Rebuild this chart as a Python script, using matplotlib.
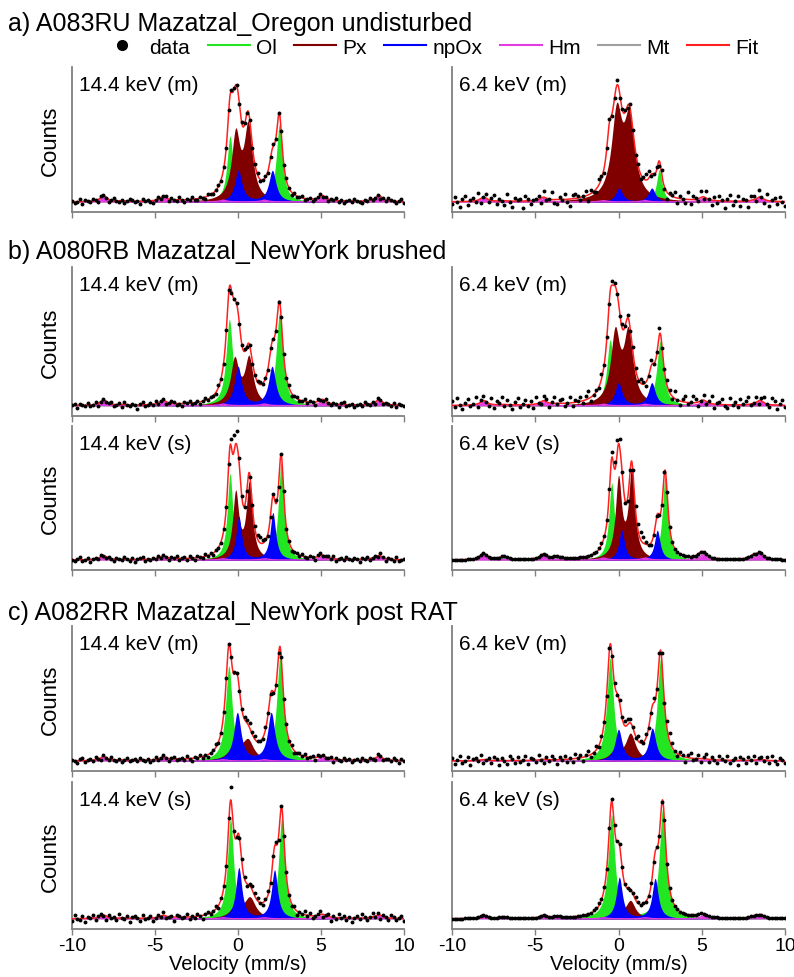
import numpy as np
import matplotlib
matplotlib.use('Agg')
import matplotlib.pyplot as plt
from matplotlib.lines import Line2D

plt.rcParams['font.family'] = ['Liberation Sans', 'DejaVu Sans']
plt.rcParams['axes.unicode_minus'] = False

# Títulos de las secciones y etiquetas de cada panel
section_titles = ['a) A083RU Mazatzal_Oregon undisturbed',
                  'b) A080RB Mazatzal_NewYork brushed',
                  'c) A082RR Mazatzal_NewYork post RAT']
panel_labels = ['14.4 keV (m)', '6.4 keV (m)',
                '14.4 keV (m)', '6.4 keV (m)',
                '14.4 keV (s)', '6.4 keV (s)',
                '14.4 keV (m)', '6.4 keV (m)',
                '14.4 keV (s)', '6.4 keV (s)']
legend_labels = ['data', 'Ol', 'Px', 'npOx', 'Hm', 'Mt', 'Fit']
x_ticks = [-10, -5, 0, 5, 10]

# Dobletes: posiciones de las dos líneas (mm/s) y altura de cada relleno
# en su pico, como fracción del máximo del ajuste
ol_pos = [(-0.48, 2.49), (-0.55, 2.45), (-0.52, 2.50), (-0.50, 2.50), (-0.48, 2.60),
          (-0.41, 2.80), (-0.55, 2.53), (-0.50, 2.53), (-0.45, 2.63), (-0.42, 2.65)]
ol_top = [(0.56, 0.66), (0.31, 0.30), (0.70, 0.75), (0.54, 0.53), (0.69, 0.78),
          (0.62, 0.67), (0.80, 0.87), (0.81, 0.81), (0.86, 0.86), (0.90, 0.95)]
px_pos = [(-0.14, 0.62), (-0.11, 0.65), (-0.20, 0.66), (-0.20, 0.59), (-0.14, 0.68),
          (0.00, 0.79), (-0.18, 0.60), (-0.20, 0.72), (-0.10, 0.72), (-0.05, 0.72)]
px_top = [(0.63, 0.69), (0.92, 0.86), (0.40, 0.41), (0.65, 0.65), (0.56, 0.63),
          (0.68, 0.74), (0.17, 0.19), (0.10, 0.22), (0.14, 0.19), (0.09, 0.16)]
npox_pos = [(0.02, 2.07), (0.03, 2.00), (0.00, 2.05), (0.00, 2.00), (0.05, 2.10),
            (0.19, 2.33), (-0.04, 2.00), (0.00, 2.03), (0.05, 2.20), (0.05, 2.20)]
npox_top = [(0.27, 0.27), (0.13, 0.13), (0.32, 0.32), (0.19, 0.19), (0.35, 0.38),
            (0.24, 0.24), (0.41, 0.41), (0.25, 0.26), (0.44, 0.42), (0.36, 0.35)]
# semianchura (Ol, Px, npOx) en mm/s
hwhm = [(0.22, 0.30, 0.26), (0.20, 0.38, 0.25), (0.24, 0.30, 0.26), (0.24, 0.33, 0.25),
        (0.20, 0.22, 0.20), (0.20, 0.22, 0.20), (0.24, 0.40, 0.26), (0.24, 0.36, 0.25),
        (0.22, 0.40, 0.22), (0.24, 0.34, 0.22)]

# Sextetos magnéticos (Hm y Mt), altura de la línea externa / máximo del ajuste
hm_lines = [-8.1, -4.5, -0.9, 1.6, 5.1, 8.5]
mt_lines = [-6.9, -3.7, -0.5, 1.7, 4.9, 8.1]
sextet_rel = [1.0, 0.8, 0.3, 0.3, 0.8, 1.0]
sextet_hwhm = 0.25
hm_top = [0.05, 0.04, 0.045, 0.04, 0.035, 0.055, 0.035, 0.01, 0.03, 0.03]
mt_top = [0.005, 0.005, 0.005, 0.005, 0.005, 0.03, 0.005, 0.0, 0.005, 0.015]

# Residuos de los datos respecto al ajuste (% del máximo), 128 canales por panel
res_a_l = [1, -1, 0, 2, -2, 1, 0, -1, 2, 0, -2, 1, 1, -1, -2, 0,
           2, 0, -1, 1, -2, 0, 2, 1, -1, 0, -2, 2, 0, 1, -1, -2,
           0, 2, -1, 0, 1, -2, 1, 0, -1, 2, 0, -2, 1, 0, 2, -1,
           -1, 1, 0, -2, 2, 1, -1, 0, 1, -1, 2, 0, -1, 2, 1, 0,
           -1, 2, 1, -1, 0, -2, 1, 2, -1, 0, 1, -2, 0, 2, -1, 1,
           0, -1, 2, 0, -2, 1, -1, 0, 2, -1, 0, 1, -2, 0, 1, 2,
           -1, 0, -2, 1, 0, 2, -1, 1, -2, 0, 1, -1, 2, 0, -1, -2,
           1, 0, 2, -1, 0, 1, -2, 0, -1, 2, 1, 0, -1, 0, 2, -1]
res_a_r = [-2, 4, 0, -5, 2, 5, -3, 1, 3, -1, 6, -4, 0, 4, -2, 2,
           5, -3, 2, 0, -4, 6, -1, -5, 3, 1, 2, -6, 4, 2, -3, 0,
           1, 3, -4, 5, -2, 0, 6, -3, -4, 2, 0, 5, -2, -6, 3, 4,
           2, -2, 1, 4, -5, 3, 0, -3, 5, 2, -4, 1, 3, -2, 0, 4,
           -3, 1, 2, -2, 4, 0, -3, 2, -4, 1, 5, 6, -2, 0, 3, -4,
           4, -2, -6, 2, 1, 5, -4, 2, 0, -3, 6, -4, 3, 1, -2, 5,
           -2, 6, 0, -4, 3, -2, 4, 1, -6, 2, 5, -3, 0, 4, -4, 2,
           1, -5, 4, 3, -2, 6, 0, -3, 5, -4, 1, 3, -2, 4, 0, -4]
res_b1_l = [0, 1, -2, 1, 0, -1, 2, -1, 0, 2, -2, 0, 1, -1, 0, 2,
            -1, 0, 1, -2, 2, 0, -1, 1, 0, -3, 1, 2, -1, 0, 1, -1,
            2, -1, 0, 1, -2, 0, 2, 1, -1, 0, -2, 1, 0, 2, -1, 0,
            1, -2, 0, 2, -1, 1, 0, -1, 2, 0, -1, 2, 1, -2, 0, 1,
            -1, 0, 2, -1, 1, -2, 0, 1, 2, -1, 0, -2, 1, 0, -1, 2,
            0, 1, -1, 2, -2, 0, 1, -1, 0, 2, -1, 1, 0, -2, 2, 0,
            -1, 2, 0, -1, 1, 0, -2, 1, 2, -1, 0, 1, -2, 0, 1, -1,
            2, 0, -1, 1, -2, 2, 0, -1, 1, 0, -1, 2, -2, 1, 0, -1]
res_b1_r = [4, -1, 6, 0, -3, 2, 5, -1, 1, 6, -3, 2, 4, 0, -2, 5,
            -3, 3, 1, 6, -1, 4, 0, -3, 2, 6, -2, 1, 4, -1, 3, -3,
            6, 0, -2, 4, 2, -3, 1, 5, -1, 3, 4, -2, 0, 5, -3, 2,
            1, 4, -2, 3, 6, -3, 0, 2, -1, 4, 0, 2, -3, 3, 2, 0,
            -2, 4, 0, 2, -1, 5, 1, -2, 4, 2, -3, 0, 5, -1, 3, 6,
            -3, 1, 4, 2, -2, 6, 0, -3, 2, 5, -1, 1, 6, 3, -3, 0,
            4, -2, 2, 6, -3, 1, 2, 5, -1, -3, 6, 0, 2, -2, 5, 1,
            3, 6, -1, 0, 4, -3, 2, 5, 0, -2, 6, 3, -3, 1, 4, -1]
res_b2_l = [0, -1, 1, 2, -1, 0, 1, -2, 0, 1, -1, 2, 0, -1, 1, 0,
            -2, 1, 0, -1, 2, 0, -1, 1, -2, 0, 1, 2, -1, 0, -1, 1,
            0, 2, -1, 1, 0, -2, 1, 0, 2, -1, 0, 1, -1, 2, 0, -2,
            1, 0, -1, 2, 0, 1, -2, 1, 0, -1, 2, 1, -2, 8, 14, 12,
            6, 2, -1, -3, -2, 1, 3, 4, 5, 3, 1, -2, -3, 1, 3, -1,
            0, 2, -1, 1, -2, 0, 1, -1, 2, 0, -1, 1, 0, -2, 1, 2,
            -1, 0, 1, -1, 2, -2, 0, 1, -1, 2, 0, -1, 1, 0, -2, 1,
            0, 2, -1, 0, 1, -1, 2, 0, -2, 1, 0, -1, 2, -1, 0, 1]
res_b2_r = [0, 0, 0, 0, 0, 0, 0, 0, 0, 0, 0, 0, 0, 0, 0, 0,
            0, 0, 0, 0, 0, 0, 0, 0, 0, 0, 0, 0, 0, 0, 0, 0,
            0, 0, 0, 0, 0, 0, 0, 0, 0, 0, 0, 0, 0, 0, 0, 0,
            0, 0, 0, 0, 0, 0, 1, 0, 1, 2, 1, 3, 2, 4, 6, 11,
            8, 3, -2, -3, -1, 2, 4, 6, 7, 5, 2, 0, -2, -1, 1, 0,
            0, 1, 0, 0, 0, 0, 0, 0, 0, 0, 0, 0, 0, 0, 0, 0,
            0, 0, 0, 0, 0, 0, 0, 0, 0, 0, 0, 0, 0, 0, 0, 0,
            0, 0, 0, 0, 0, 0, 0, 0, 0, 0, 0, 0, 0, 0, 0, 0]
res_c1_l = [1, 0, -2, 1, 2, -1, 0, 1, -1, 2, 0, -2, 1, 0, -1, 2,
            0, -1, 1, -2, 0, 2, -1, 0, 1, -1, 2, 0, -1, 1, -2, 0,
            2, -1, 0, 1, 0, -2, 1, 2, -1, 0, 1, -1, 2, 0, -2, 1,
            0, 2, -1, 1, -2, 0, 1, 3, -1, 0, 2, 1, 0, 3, 2, 0,
            -2, 1, 2, 3, 4, 2, 3, 1, 0, -1, 2, 1, 0, -1, 1, 2,
            -1, 0, 2, -1, 1, -2, 0, 1, 0, 2, -1, 0, 1, -2, 2, 0,
            1, -1, 0, 2, -2, 1, 0, -1, 2, 0, 1, -2, 0, 1, -1, 2,
            0, -1, 1, 0, -2, 2, 1, -1, 0, 1, -1, 2, 0, -2, 1, 0]
res_c1_r = [2, -3, 1, 4, -2, 0, 3, -4, 1, 2, -1, 4, -3, 0, 2, -2,
            3, 1, -4, 2, 0, -3, 4, 1, -2, 3, -1, 0, 4, -3, 2, 1,
            -2, 4, 0, -3, 2, -1, 3, 1, -4, 2, 0, 3, -2, 1, -3, 4,
            0, 2, -3, 1, 4, -2, 0, 3, -1, 2, 1, -2, 2, 0, 1, -1,
            3, 2, 4, 5, 3, 1, -2, 4, 2, -1, 3, 0, -2, 4, 3, 6,
            5, -1, 6, 7, 4, 0, -2, 3, 1, -4, 2, 4, -1, 0, 3, -3,
            1, 4, -2, 2, 0, -3, 3, 1, -1, 4, -2, 0, 2, -4, 3, 1,
            -2, 3, 0, 4, -3, 1, 2, -1, 3, -2, 4, 0, -3, 2, 1, -2]
res_c2_l = [-2, 3, 0, -1, 2, -3, 1, 0, 3, -2, 1, 2, -1, -3, 2, 0,
            1, -2, 3, 0, -1, 2, -3, 1, 2, 0, -2, 3, -1, 0, 2, -3,
            0, 2, -1, 3, -2, 0, 1, -3, 2, 1, -1, 0, 3, -2, 1, -1,
            2, 0, -3, 1, 2, -1, 0, 3, -2, 1, 2, 0, 3, 14, 2, 0,
            -1, 3, 2, -2, 1, 4, 3, 2, 0, -2, 1, 3, -1, 0, 2, -3,
            1, -1, 3, 0, -2, 2, -3, 1, 0, 3, -1, 2, -2, 0, 1, 3,
            -2, 0, 2, -3, 1, -1, 3, 0, 2, -2, 1, -3, 0, 2, -1, 3,
            1, -2, 0, 3, -1, 2, -3, 1, 0, -2, 3, 1, -1, 0, 2, -2]
res_c2_r = [0, 0, 0, 0, 0, 0, 0, 0, 0, 0, 0, 0, 0, 0, 0, 0,
            0, 0, 0, 0, 0, 0, 0, 0, 0, 0, 0, 0, 0, 0, 0, 0,
            0, 0, 0, 0, 0, 0, 0, 0, 0, 0, 0, 0, 0, 0, 0, 0,
            0, 0, 0, 0, 0, 0, 1, 1, 2, 1, 2, 0, 1, 2, 3, 1,
            2, 3, 1, 0, -1, 1, 2, 1, 0, 1, -1, 0, 1, -1, 1, 0,
            1, 0, 0, 0, 0, 0, 0, 0, 0, 0, 0, 0, 0, 0, 0, 0,
            0, 0, 0, 0, 0, 0, 0, 0, 0, 0, 0, 0, 0, 0, 0, 0,
            0, 0, 0, 0, 0, 0, 0, 0, 0, 0, 0, 0, 0, 0, 0, 0]
residuals = [res_a_l, res_a_r, res_b1_l, res_b1_r, res_b2_l,
             res_b2_r, res_c1_l, res_c1_r, res_c2_l, res_c2_r]

# Colores de cada componente
c_ol, c_px, c_np, c_hm, c_mt, c_fit = '#22e622', '#800000', '#0000ff', '#e23ce2', '#a0a0a0', '#ff2020'
c_axis = '#808080'


def lorentz(x, centros, alturas, w):
    y = np.zeros_like(x, dtype=float)
    for c, a in zip(centros, alturas):
        y = y + a / (1 + ((x - c) / w) ** 2)
    return y


def alturas_de_linea(k, grid, n_iter=80):
    # Busca las alturas de cada línea para que el pico de cada relleno quede
    # a la fracción leída del máximo del ajuste (máximo normalizado a 1)
    pos = [ol_pos[k], px_pos[k], npox_pos[k]]
    tops = [np.array(ol_top[k]), np.array(px_top[k]), np.array(npox_top[k])]
    amps = [t.astype(float) for t in tops]
    hm_a = [hm_top[k] * r for r in sextet_rel]
    mt_a = [mt_top[k] * r for r in sextet_rel]
    sext = lorentz(grid, hm_lines, hm_a, sextet_hwhm) + lorentz(grid, mt_lines, mt_a, sextet_hwhm)
    for _ in range(n_iter):
        fit = sext.copy()
        for j in range(3):
            fit = fit + lorentz(grid, pos[j], amps[j], hwhm[k][j])
        M = fit.max()
        for j in range(3):
            actual = lorentz(np.array(pos[j]), pos[j], amps[j], hwhm[k][j])
            amps[j] = amps[j] * np.sqrt(tops[j] * M / actual) / M
    return amps, hm_a, mt_a


def componentes(x, k, amps, hm_a, mt_a):
    w_ol, w_px, w_np = hwhm[k]
    ol = lorentz(x, ol_pos[k], amps[0], w_ol)
    px = lorentz(x, px_pos[k], amps[1], w_px)
    npox = lorentz(x, npox_pos[k], amps[2], w_np)
    hm = lorentz(x, hm_lines, hm_a, sextet_hwhm)
    mt = lorentz(x, mt_lines, mt_a, sextet_hwhm)
    return ol, px, npox, hm, mt


# Geometría de la figura (en píxeles)
W, H = 794, 978
row_top = [68, 268, 427, 627, 783]
row_bot = [213, 417, 571, 772, 930]
col_x0 = [72, 452]
col_x1 = [404, 785]

fig = plt.figure(figsize=(W / 100, H / 100), dpi=100)
v = np.linspace(-10, 10, 1601)

for k in range(10):
    row, col = divmod(k, 2)
    ax = fig.add_axes([col_x0[col] / W, 1 - row_bot[row] / H,
                       (col_x1[col] - col_x0[col]) / W, (row_bot[row] - row_top[row]) / H])
    amps, hm_a, mt_a = alturas_de_linea(k, v)
    ol, px, npox, hm, mt = componentes(v, k, amps, hm_a, mt_a)
    fit = ol + px + npox + hm + mt
    M = fit.max()

    # puntos de datos = ajuste + residuo
    vd = np.linspace(-10, 10, len(residuals[k]))
    fit_d = sum(componentes(vd, k, amps, hm_a, mt_a))
    yd = fit_d + np.array(residuals[k]) * M / 100

    ax.fill_between(v, 0, mt, color=c_mt, lw=0, zorder=1)
    ax.fill_between(v, 0, ol, color=c_ol, lw=0, zorder=2)
    ax.fill_between(v, 0, px, color=c_px, lw=0, zorder=3)
    ax.fill_between(v, 0, npox, color=c_np, lw=0, zorder=4)
    ax.fill_between(v, 0, hm, color=c_hm, lw=0, zorder=5)
    ax.plot(v, hm, color=c_hm, lw=1.0, zorder=5)
    ax.plot(v, fit, color=c_fit, lw=1.1, zorder=6)
    ax.plot(vd, yd, 'o', color='black', ms=2.8, mew=0, zorder=7)

    ax.set_xlim(-10, 10)
    ax.set_ylim(-0.085 * M, 1.15 * M)
    ax.set_yticks([])
    ax.set_xticks(x_ticks)
    for s in ['top', 'right']:
        ax.spines[s].set_visible(False)
    for s in ['left', 'bottom']:
        ax.spines[s].set_color(c_axis)
        ax.spines[s].set_linewidth(1.3)
    ax.tick_params(axis='x', direction='out', length=4, width=1, color=c_axis,
                   labelsize=14, pad=2)
    if row < 4:
        ax.tick_params(axis='x', labelbottom=False)
    else:
        ax.set_xlabel('Velocity (mm/s)', fontsize=14.5, labelpad=0)

    ax.text(0.02, 0.88, panel_labels[k], transform=ax.transAxes, fontsize=15, va='center')
    if col == 0:
        ax.set_ylabel('Counts', fontsize=16)
        ax.yaxis.set_label_coords(-0.035, 0.5)

# Títulos de sección
for titulo, y in zip(section_titles, [24, 252, 613]):
    fig.text(8 / W, 1 - y / H, titulo, fontsize=18, va='center', ha='left')

# Leyenda
handles = [Line2D([], [], marker='o', color='black', ls='none', ms=7),
           Line2D([], [], color=c_ol, lw=1.5),
           Line2D([], [], color=c_px, lw=1.5),
           Line2D([], [], color=c_np, lw=1.5),
           Line2D([], [], color=c_hm, lw=1.5),
           Line2D([], [], color=c_mt, lw=1.5),
           Line2D([], [], color=c_fit, lw=1.5)]
fig.legend(handles, legend_labels, loc='center', bbox_to_anchor=(430 / W, 1 - 48 / H),
           ncol=7, frameon=False, fontsize=15, handlelength=2.0, handletextpad=0.3,
           columnspacing=0.85, borderpad=0)

fig.savefig('out.png', dpi=100)
